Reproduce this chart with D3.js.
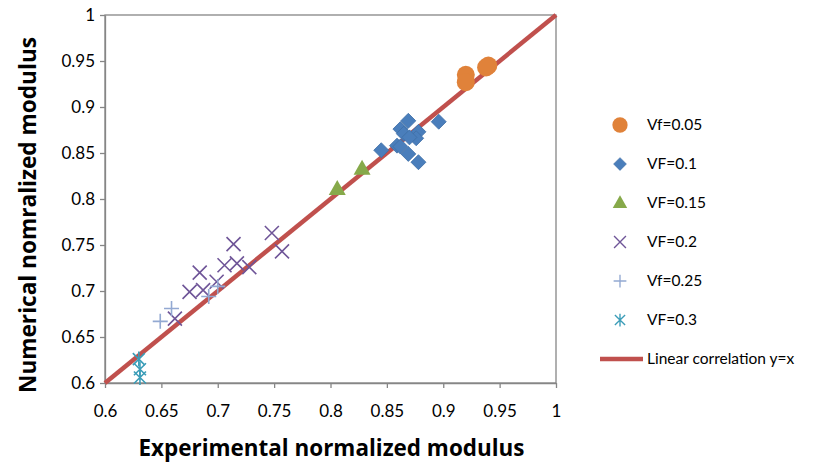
<!DOCTYPE html>
<html><head><meta charset="utf-8">
<script src="https://cdn.jsdelivr.net/npm/d3@7"></script>
<style>body{margin:0;background:#fff}svg{display:block}text{font-family:Lato,"Open Sans",sans-serif}</style>
</head><body><svg id="c" width="831" height="464"></svg>
<script>
const xTicks=[0.6,0.65,0.7,0.75,0.8,0.85,0.9,0.95,1];
const yTicks=[0.6,0.65,0.7,0.75,0.8,0.85,0.9,0.95,1];
const s005x=[0.92,0.92,0.94,0.938];
const s005y=[0.935,0.927,0.945,0.943];
const s01x=[0.845,0.869,0.862,0.865,0.878,0.876,0.859,0.862,0.869,0.878,0.896,0.870];
const s01y=[0.853,0.885,0.876,0.871,0.873,0.866,0.858,0.857,0.849,0.840,0.884,0.867];
const s015x=[0.806,0.828];
const s015y=[0.811,0.833];
const s02x=[0.748,0.757,0.714,0.684,0.706,0.717,0.728,0.675,0.687,0.699,0.662];
const s02y=[0.763,0.743,0.751,0.720,0.728,0.730,0.726,0.699,0.701,0.710,0.670];
const s025x=[0.659,0.649,0.692,0.700];
const s025y=[0.681,0.667,0.694,0.705];
const s03x=[0.630,0.631,0.631];
const s03y=[0.626,0.615,0.606];
const seriesNames=["Vf=0.05","VF=0.1","VF=0.15","VF=0.2","Vf=0.25","VF=0.3"];
const lineName="Linear correlation y=x";

const series=[
 {name:seriesNames[0],xs:s005x,ys:s005y,type:"circle",color:"#E0823A"},
 {name:seriesNames[1],xs:s01x,ys:s01y,type:"diamond",color:"#4A7EBB"},
 {name:seriesNames[2],xs:s015x,ys:s015y,type:"triangle",color:"#86A94A"},
 {name:seriesNames[3],xs:s02x,ys:s02y,type:"x",color:"#6F5598"},
 {name:seriesNames[4],xs:s025x,ys:s025y,type:"plus",color:"#93A9D2"},
 {name:seriesNames[5],xs:s03x,ys:s03y,type:"star",color:"#3B9DB8"}
];
const svg=d3.select("#c");
const L=105,R=556,T=15,B=383;
const x=d3.scaleLinear().domain([0.6,1]).range([L,R]);
const y=d3.scaleLinear().domain([0.6,1]).range([B,T]);
const axisColor="#868686";

svg.append("rect").attr("x",L).attr("y",T).attr("width",R-L).attr("height",B-T)
  .attr("fill","none").attr("stroke",axisColor).attr("stroke-width",1.3);

const gx=svg.append("g").attr("transform",`translate(0,${B})`)
  .call(d3.axisBottom(x).tickValues(xTicks).tickSize(5).tickSizeOuter(0).tickFormat(d=>String(+d.toFixed(2))));
const gy=svg.append("g").attr("transform",`translate(${L},0)`)
  .call(d3.axisLeft(y).tickValues(yTicks).tickSize(5).tickSizeOuter(0).tickFormat(d=>String(+d.toFixed(2))));
[gx,gy].forEach(g=>{
  g.select(".domain").attr("stroke",axisColor).attr("stroke-width",1.3);
  g.selectAll(".tick line").attr("stroke",axisColor).attr("stroke-width",1.3);
  g.selectAll(".tick text").attr("fill","#000").style("font-size","17px").style("font-family","Lato");
});
gx.selectAll(".tick text").attr("y",0).attr("dy","0").attr("transform","translate(0,34)");
gy.selectAll(".tick text").attr("x",-10).attr("dy","0.35em");

const plot=svg.append("g");
function marker(g,type,color){
  if(type==="circle") g.append("circle").attr("r",9).attr("fill",color);
  else if(type==="diamond") g.append("path").attr("d","M0,-7.5L7.5,0L0,7.5L-7.5,0Z").attr("fill",color).attr("stroke","#3F6EA6").attr("stroke-width",0.8);
  else if(type==="triangle") g.append("path").attr("d","M0,-9L8.5,6L-8.5,6Z").attr("fill",color);
  else if(type==="x") g.append("path").attr("d","M-7,-7L7,7M-7,7L7,-7").attr("stroke",color).attr("stroke-width",1.6).attr("fill","none");
  else if(type==="plus") g.append("path").attr("d","M-7.5,0L7.5,0M0,-7.5L0,7.5").attr("stroke",color).attr("stroke-width",1.6).attr("fill","none");
  else if(type==="star") g.append("path").attr("d","M-6,-6L6,6M-6,6L6,-6M0,-7.5L0,7.5").attr("stroke",color).attr("stroke-width",1.6).attr("fill","none");
}

const lineCol="#C0504D";
plot.append("line").attr("x1",x(0.6)).attr("y1",y(0.6)).attr("x2",x(1)).attr("y2",y(1))
  .attr("stroke",lineCol).attr("stroke-width",4.5);

series.forEach(s=>{
  s.xs.forEach((v,i)=>{
    const g=plot.append("g").attr("transform",`translate(${x(v)},${y(s.ys[i])})`);
    marker(g,s.type,s.color);
  });
});

const lg=svg.append("g");
const legTop=125, legStep=39;
series.forEach((s,i)=>{
  const yy=legTop+legStep*i;
  const g=lg.append("g").attr("transform",`translate(620,${yy})`);
  const m=g.append("g").attr("transform","scale(0.85)");
  marker(m,s.type,s.color);
  g.append("text").attr("x",27).attr("y",0).attr("dy","0.35em").text(s.name).style("font-size","15.5px").attr("fill","#000");
});
const ly=legTop+legStep*6;
lg.append("line").attr("x1",600).attr("x2",643).attr("y1",ly).attr("y2",ly).attr("stroke",lineCol).attr("stroke-width",4.5);
lg.append("text").attr("x",647).attr("y",ly).attr("dy","0.35em").text(lineName).style("font-size","15.5px").attr("fill","#000");

function fitText(t,w){
  t.style("font-size","20px");
  const cur=t.node().getComputedTextLength();
  t.style("font-size",(20*w/cur).toFixed(2)+"px");
}
const xt=svg.append("text").attr("x",(L+R)/2+1).attr("y",456).attr("text-anchor","middle")
  .style("font-family","'Open Sans'").style("font-weight","bold").text("Experimental normalized modulus");
fitText(xt,386);
const yt=svg.append("text").attr("transform",`translate(36,${(T+B)/2+16}) rotate(-90)`).attr("text-anchor","middle")
  .style("font-family","'Open Sans'").style("font-weight","bold").text("Numerical nomralized modulus");
fitText(yt,356);
</script></body></html>
